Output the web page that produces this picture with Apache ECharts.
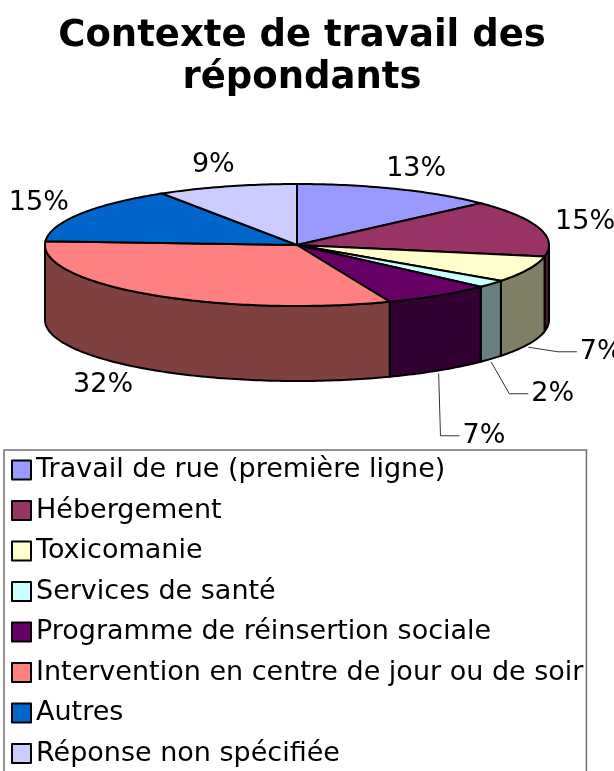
<!DOCTYPE html>
<html lang="fr">
<head>
<meta charset="UTF-8">
<title>Contexte de travail des répondants</title>
<script src="https://cdn.jsdelivr.net/npm/echarts@6/dist/echarts.min.js"></script>
<style>
    html, body { margin: 0; padding: 0; background: #fff; }
    #main { width: 614px; height: 771px; }
</style>
</head>
<body>
<div id="main"></div>
<script>
    // données du graphique
    var categories = ['Travail de rue (première ligne)', 'Hébergement', 'Toxicomanie', 'Services de santé',
        'Programme de réinsertion sociale', 'Intervention en centre de jour ou de soir', 'Autres', 'Réponse non spécifiée'];
    var percents = [13, 15, 7, 2, 7, 32, 15, 9];
    var colors = ['#9999FF', '#993366', '#FFFFCC', '#CCFFFF', '#660066', '#FF8080', '#0066CC', '#CCCCFF'];

    // géométrie du camembert 3D (ellipse + épaisseur)
    var cx = 297, cy = 245, rx = 252, ry = 61, depth = 75;
    var FONT = 'DejaVu Sans';

    var total = 0;
    for (var i = 0; i < percents.length; i++) total += percents[i];
    var starts = [], acc = 0;
    for (var i = 0; i < percents.length; i++) {
        starts.push(acc);
        acc += percents[i] / total * 360;
    }

    function pt(a, dy) {
        var r = a * Math.PI / 180;
        return [cx + rx * Math.sin(r), cy - ry * Math.cos(r) + (dy || 0)];
    }
    function arc(a0, a1, dy) {
        var n = Math.max(2, Math.ceil(a1 - a0));
        var pts = [];
        for (var k = 0; k <= n; k++) pts.push(pt(a0 + (a1 - a0) * k / n, dy));
        return pts;
    }
    function dark(hex) {
        var r = parseInt(hex.substr(1, 2), 16) >> 1, g = parseInt(hex.substr(3, 2), 16) >> 1, b = parseInt(hex.substr(5, 2), 16) >> 1;
        return 'rgb(' + r + ',' + g + ',' + b + ')';
    }

    // position des étiquettes, on pousse vers le bas celles qui se chevauchent
    var labels = [];
    for (var i = 0; i < percents.length; i++) {
        var mid = starts[i] + percents[i] / total * 180;
        var s = Math.sin(mid * Math.PI / 180), c = Math.cos(mid * Math.PI / 180);
        var lower = c < 0;
        var lx = cx + (lower ? 330 : 300) * s;
        var ly = cy - (lower ? 80 : 83) * c + (lower ? depth : 0);
        labels.push({x: lx, y: ly, mid: mid, lower: lower, right: s > 0, leader: lower && percents[i] < 10});
    }
    var prevY = -1e9;
    for (var i = 0; i < labels.length; i++) {
        if (labels[i].lower && labels[i].right) {
            if (labels[i].y < prevY + 42) labels[i].y = prevY + 42;
            prevY = labels[i].y;
        }
    }

    var myChart = echarts.init(document.getElementById('main'));
    var option = {
        backgroundColor: '#fff',
        animation: false,
        title: {
            text: 'Contexte de travail des\nrépondants',
            left: cx,
            textAlign: 'center',
            top: 10,
            textStyle: {fontFamily: FONT, fontSize: 37, fontWeight: 'bold', color: '#000', lineHeight: 42}
        },
        legend: {
            data: categories,
            orient: 'vertical',
            left: 4,
            top: 450,
            height: 500,
            padding: [5, 3, 7, 7],
            borderColor: '#707070',
            borderWidth: 1.5,
            itemWidth: 19,
            itemHeight: 19,
            itemGap: 10.5,
            icon: 'rect',
            itemStyle: {borderColor: '#000', borderWidth: 2},
            textStyle: {fontFamily: FONT, fontSize: 27, color: '#000', lineHeight: 30}
        },
        series: [
            {
                // sert seulement à fournir la légende
                type: 'pie',
                silent: true,
                radius: [0, 0],
                center: [-100, -100],
                label: {show: false},
                labelLine: {show: false},
                data: categories.map(function (name, i) {
                    return {name: name, value: percents[i], itemStyle: {color: colors[i]}};
                })
            },
            {
                type: 'custom',
                coordinateSystem: 'none',
                silent: true,
                data: percents,
                renderItem: function (params, api) {
                    var i = params.dataIndex;
                    var a0 = starts[i], a1 = starts[i] + percents[i] / total * 360;
                    var children = [];
                    // face latérale visible (moitié avant)
                    var b0 = Math.max(a0, 90), b1 = Math.min(a1, 270);
                    if (b1 > b0) {
                        var side = arc(b0, b1, 0).concat(arc(b0, b1, depth).reverse());
                        children.push({
                            type: 'polygon', shape: {points: side},
                            style: {fill: dark(colors[i]), stroke: '#000', lineWidth: 2}
                        });
                    }
                    // dessus
                    children.push({
                        type: 'polygon', shape: {points: [[cx, cy]].concat(arc(a0, a1, 0))},
                        style: {fill: colors[i], stroke: '#000', lineWidth: 2}
                    });
                    var lb = labels[i];
                    var txt = percents[i] + '%';
                    if (lb.leader) {
                        var a = pt(lb.mid, depth + 3);
                        var left = lb.x - 20;
                        children.push({
                            type: 'polyline',
                            shape: {points: [a, [left - 22, lb.y], [left - 3, lb.y]]},
                            style: {stroke: '#333', lineWidth: 1, fill: null}
                        });
                        children.push({
                            type: 'text',
                            style: {text: txt, x: left, y: lb.y, align: 'left', verticalAlign: 'middle',
                                font: '27px "' + FONT + '"', fill: '#000'}
                        });
                    } else {
                        children.push({
                            type: 'text',
                            style: {text: txt, x: lb.x, y: lb.y, align: 'center', verticalAlign: 'middle',
                                font: '27px "' + FONT + '"', fill: '#000'}
                        });
                    }
                    return {type: 'group', children: children};
                }
            }
        ]
    };
    myChart.setOption(option);
</script>
</body>
</html>
